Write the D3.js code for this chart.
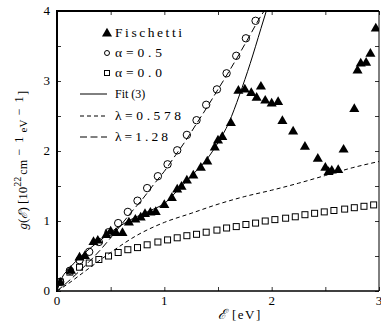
<!DOCTYPE html>
<html><head><meta charset="utf-8">
<script src="https://cdn.jsdelivr.net/npm/d3@7"></script>
<style>
html,body{margin:0;padding:0;background:#fff;}
svg{display:block;}
text{font-family:"Liberation Serif","DejaVu Serif",serif;fill:#000;}
</style></head>
<body>
<script>
// ---- data ----
const fischettiE = [0.03,0.13,0.21,0.26,0.34,0.38,0.46,0.50,0.55,0.61,0.67,0.73,0.78,0.82,0.87,0.92,1.00,1.07,1.12,1.16,1.21,1.27,1.34,1.40,1.47,1.50,1.54,1.62,1.69,1.75,1.81,1.86,1.90,1.94,2.00,2.06,2.10,2.20,2.31,2.43,2.50,2.53,2.56,2.62,2.67,2.77,2.80,2.83,2.88,2.92,2.97];
const fischettiG = [0.13,0.30,0.49,0.51,0.71,0.73,0.81,0.86,0.84,0.84,0.99,1.03,1.06,1.11,1.13,1.14,1.24,1.34,1.46,1.50,1.59,1.66,1.77,1.86,2.06,2.16,2.21,2.41,2.87,2.89,2.84,2.77,2.93,2.73,2.69,2.71,2.44,2.29,2.07,1.90,1.77,1.71,1.73,1.74,2.03,2.61,3.16,3.26,3.27,3.40,3.76];
const gridE = [0.03,0.12,0.21,0.30,0.39,0.48,0.57,0.66,0.75,0.84,0.94,1.03,1.12,1.21,1.30,1.39,1.49,1.58,1.67,1.76,1.85,1.94,2.03,2.13,2.22,2.31,2.40,2.49,2.58,2.68,2.77,2.86,2.95];
const alpha05G = [0.13,0.29,0.44,0.56,0.70,0.84,0.97,1.13,1.29,1.47,1.64,1.81,2.01,2.23,2.44,2.66,2.88,3.11,3.36,3.61,3.86];
const alpha00G = [0.13,0.27,0.34,0.40,0.45,0.50,0.55,0.59,0.62,0.66,0.70,0.73,0.76,0.79,0.81,0.84,0.87,0.90,0.92,0.95,0.97,1.00,1.02,1.04,1.06,1.09,1.11,1.13,1.15,1.17,1.19,1.21,1.23];
const fitE = [0,0.05,0.1,0.2,0.3,0.4,0.5,0.6,0.7,0.8,0.9,1.0,1.1,1.2,1.3,1.4,1.5,1.6,1.7,1.8,1.9,1.95];
const fitG = [0,0.2,0.3,0.46,0.6,0.72,0.84,0.94,1.03,1.1,1.17,1.25,1.4,1.56,1.72,1.89,2.12,2.4,2.8,3.25,3.75,4.0];
const lam0578E = [0,0.1,0.25,0.5,0.75,1.0,1.25,1.5,1.75,2.0,2.25,2.5,2.75,3.0];
const lam0578G = [0,0.1,0.27,0.55,0.8,0.98,1.11,1.24,1.35,1.44,1.54,1.65,1.76,1.85];
const lam128E = [0,0.1,0.2,0.3,0.4,0.5,0.6,0.7,0.8,0.9,1.0,1.1,1.2,1.3,1.4,1.5,1.6,1.7,1.8,1.9,1.93];
const lam128G = [0,0.13,0.27,0.42,0.58,0.76,0.95,1.14,1.32,1.52,1.71,1.93,2.15,2.39,2.63,2.88,3.13,3.39,3.66,3.93,4.0];
const xTicks = [0,1,2,3];
const yTicks = [0,1,2,3,4];
const legendLabels = ["Fischetti","\u03b1=0.5","\u03b1=0.0","Fit (3)","\u03bb=0.578","\u03bb=1.28"];

const W=381,H=321;
const L=57,R=379,T=11,B=291;
const svg=d3.select("body").append("svg").attr("width",W).attr("height",H);
const x=d3.scaleLinear().domain([0,3]).range([L,R]);
const y=d3.scaleLinear().domain([0,4]).range([B,T]);

svg.append("clipPath").attr("id","c").append("rect").attr("x",L).attr("y",T).attr("width",R-L).attr("height",B-T);
const plot=svg.append("g").attr("clip-path","url(#c)");
const line=d3.line().x(d=>x(d[0])).y(d=>y(d[1])).curve(d3.curveMonotoneX);
function pairs(a,b){return a.map((v,i)=>[v,b[i]]);}

plot.append("path").attr("d",line(pairs(fitE,fitG))).attr("fill","none").attr("stroke","#000").attr("stroke-width",1);
plot.append("path").attr("d",line(pairs(lam0578E,lam0578G))).attr("fill","none").attr("stroke","#000").attr("stroke-width",1).attr("stroke-dasharray","4,3");
plot.append("path").attr("d",line(pairs(lam128E,lam128G))).attr("fill","none").attr("stroke","#000").attr("stroke-width",1).attr("stroke-dasharray","7,3.5");

const tri=d3.symbol().type(d3.symbolTriangle).size(44);
plot.selectAll(".sq").data(pairs(gridE,alpha00G)).join("rect")
  .attr("x",d=>x(d[0])-3).attr("y",d=>y(d[1])-3).attr("width",6).attr("height",6)
  .attr("fill","none").attr("stroke","#000").attr("stroke-width",1);
plot.selectAll(".ci").data(pairs(gridE.slice(0,alpha05G.length),alpha05G)).join("circle")
  .attr("cx",d=>x(d[0])).attr("cy",d=>y(d[1])).attr("r",3.7)
  .attr("fill","none").attr("stroke","#000").attr("stroke-width",1);
plot.selectAll(".tr").data(pairs(fischettiE,fischettiG)).join("path")
  .attr("d",tri).attr("transform",d=>`translate(${x(d[0])},${y(d[1])+0.8})`).attr("fill","#000");

// axes with inward ticks
const minorX=d3.range(0,3.01,0.5), minorY=d3.range(0,4.01,0.5);
function axes(){
  const gB=svg.append("g").attr("transform",`translate(0,${B})`).call(d3.axisBottom(x).tickValues(minorX).tickSize(-4).tickFormat(""));
  const gT=svg.append("g").attr("transform",`translate(0,${T})`).call(d3.axisTop(x).tickValues(minorX).tickSize(-4).tickFormat(""));
  const gL=svg.append("g").attr("transform",`translate(${L},0)`).call(d3.axisLeft(y).tickValues(minorY).tickSize(-4).tickFormat(""));
  const gR=svg.append("g").attr("transform",`translate(${R},0)`).call(d3.axisRight(y).tickValues(minorY).tickSize(-4).tickFormat(""));
  [gB,gT,gL,gR].forEach(g=>{g.select(".domain").remove();g.selectAll("line").attr("stroke","#000").attr("stroke-width",0.8);});
}
axes();
svg.append("line").attr("x1",L).attr("x2",L).attr("y1",T-1).attr("y2",B+1).attr("stroke","#000").attr("stroke-width",2);
svg.append("line").attr("x1",L-1).attr("x2",R).attr("y1",T).attr("y2",T).attr("stroke","#000").attr("stroke-width",2);
svg.append("line").attr("x1",L-1).attr("x2",R).attr("y1",B).attr("y2",B).attr("stroke","#000").attr("stroke-width",1.5);
svg.append("line").attr("x1",R).attr("x2",R).attr("y1",T).attr("y2",B).attr("stroke","#000").attr("stroke-width",1);

svg.selectAll(".xt").data(xTicks).join("text").attr("x",d=>x(d)).attr("y",B+14).attr("text-anchor","middle").attr("font-size",13).text(d=>d);
svg.selectAll(".yt").data(yTicks).join("text").attr("x",L-7).attr("y",d=>y(d)+4).attr("text-anchor","end").attr("font-size",13).text(d=>d);

// axis titles
const xt=svg.append("text").attr("x",218).attr("y",319).attr("font-size",14);
xt.append("tspan").attr("font-family","DejaVu Serif").attr("font-style","italic").text("\u2130");
xt.append("tspan").attr("dx",6).attr("letter-spacing",1.5).attr("font-size",13).text("[eV]");

const yt=svg.append("text").attr("transform","translate(27,160) rotate(-90)").attr("text-anchor","middle").attr("font-size",13);
yt.append("tspan").attr("font-style","italic").text("g");
yt.append("tspan").text("(");
yt.append("tspan").attr("font-family","DejaVu Serif").attr("font-style","italic").attr("font-size",12).text("\u2130");
yt.append("tspan").text(")   [10");
yt.append("tspan").attr("dy",-6).attr("font-size",10).text("22");
yt.append("tspan").attr("dy",6).attr("dx",2).attr("font-size",12).text("cm");
yt.append("tspan").attr("dy",-4).attr("font-size",12).attr("letter-spacing",1.5).text(" \u2212 1");
yt.append("tspan").attr("dy",4).attr("font-size",11).text(" eV");
yt.append("tspan").attr("dy",-4).attr("font-size",12).attr("letter-spacing",1.5).text(" \u2212 1");
yt.append("tspan").attr("dy",4).text("]");

// legend
const lg=svg.append("g");
const rows=[33,53,73,94,116,137];
lg.append("path").attr("d",tri).attr("transform",`translate(107,${rows[0]+0.5})`).attr("fill","#000");
lg.append("circle").attr("cx",107).attr("cy",rows[1]).attr("r",2.5).attr("fill","none").attr("stroke","#000");
lg.append("rect").attr("x",104.5).attr("y",rows[2]-2.5).attr("width",5).attr("height",5).attr("fill","none").attr("stroke","#000");
lg.append("line").attr("x1",80).attr("x2",107).attr("y1",rows[3]).attr("y2",rows[3]).attr("stroke","#000");
lg.append("line").attr("x1",80).attr("x2",107).attr("y1",rows[4]).attr("y2",rows[4]).attr("stroke","#000").attr("stroke-dasharray","4,3");
lg.append("line").attr("x1",80).attr("x2",107).attr("y1",rows[5]).attr("y2",rows[5]).attr("stroke","#000").attr("stroke-dasharray","7,3.5");
const widths=[67,47,47,35,66,53];
legendLabels.forEach((t,i)=>{
  const tx=lg.append("text").attr("x",115).attr("y",rows[i]+4).attr("font-size",i==3?12:13.5).text(t);
  if(i!==3) tx.attr("textLength",widths[i]).attr("lengthAdjust","spacing");
});
</script>
</body></html>
